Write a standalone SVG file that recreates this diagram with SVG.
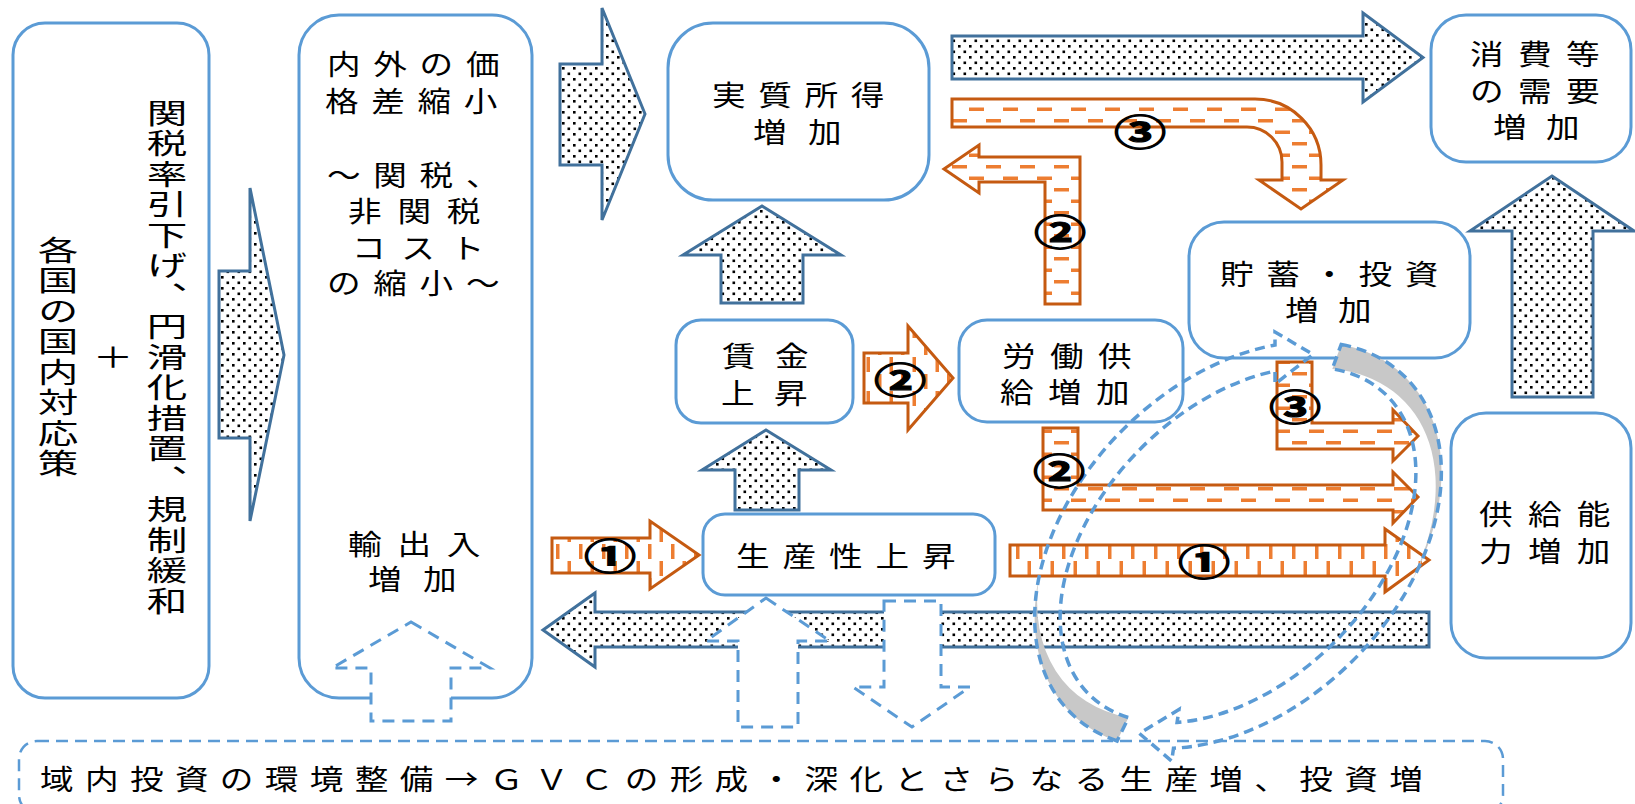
<svg xmlns="http://www.w3.org/2000/svg" width="1635" height="804" viewBox="0 0 1635 804">
<defs>
<pattern id="dots" width="11" height="11" patternUnits="userSpaceOnUse"><rect width="11" height="11" fill="#fff"/><rect x="1" y="1" width="2.6" height="2.6" fill="#000"/><rect x="6.5" y="6.5" width="2.6" height="2.6" fill="#000"/></pattern>
<pattern id="hdash" width="34" height="23" patternUnits="userSpaceOnUse"><rect width="34" height="23" fill="#fff"/><rect x="0" y="4" width="15" height="3.5" fill="#ed7d31"/><rect x="17" y="15.5" width="15" height="3.5" fill="#ed7d31"/></pattern>
<pattern id="vdash" width="23" height="34" patternUnits="userSpaceOnUse"><rect width="23" height="34" fill="#fff"/><rect x="4" y="0" width="3.5" height="15" fill="#ed7d31"/><rect x="15.5" y="17" width="3.5" height="15" fill="#ed7d31"/></pattern>
<style>
.box{fill:#fff;stroke:#5b9bd5;stroke-width:3}
.tbox{fill:#fff;stroke:#5b9bd5;stroke-width:2.5;stroke-dasharray:12 7}
.dot{fill:url(#dots);stroke:#41719c;stroke-width:3}
.oh{fill:url(#hdash);stroke:#c55a11;stroke-width:3}
.ov{fill:url(#vdash);stroke:#c55a11;stroke-width:3}
.dsh{fill:#fff;stroke:#5b9bd5;stroke-width:3;stroke-dasharray:12 8}
.loop{fill:none;stroke:#5b9bd5;stroke-width:3.5;stroke-dasharray:10 6}
.gray{fill:#c8c8c8;stroke:none}
.t{font-family:"Liberation Sans","Noto Sans CJK JP","Noto Sans CJK SC",sans-serif;font-size:28px;fill:#000}
.cjk{font-family:"Noto Sans CJK JP","Noto Sans CJK SC",sans-serif}
.tv{font-family:"Noto Sans CJK JP","Noto Sans CJK SC",sans-serif;font-size:28px;fill:#000;writing-mode:vertical-rl;letter-spacing:2.5px}
.num{font-family:"Noto Sans CJK JP","Noto Sans CJK SC",sans-serif;font-size:36px;font-weight:700;fill:#000;stroke:#000;stroke-width:1.1;text-anchor:middle;dominant-baseline:central}
</style>
</defs>
<rect width="1635" height="804" fill="#fff"/>

<g id="node-policy">
<rect class="box" x="13" y="23" width="196" height="675" rx="32"/>
<g transform="translate(167,99) scale(1.45 1)"><text class="tv">関税率引下げ、円滑化措置、規制緩和</text></g>
<g transform="translate(113,357) scale(1.45 1)"><text class="t cjk" text-anchor="middle" y="10.5">＋</text></g>
<g transform="translate(58,236) scale(1.45 1)"><text class="tv">各国の国内対応策</text></g>
</g>

<g id="node-price">
<rect class="box" x="299" y="15" width="233" height="683" rx="40"/>
<g transform="scale(1.2 1)"><text class="t">
<tspan x="272.5" y="75.5" letter-spacing="10.6">内外の価</tspan>
<tspan x="270.8" y="112.5" letter-spacing="10.6">格差縮小</tspan>
<tspan x="272.5" y="186.5" letter-spacing="10.6">～関税、</tspan>
<tspan x="290" y="222.5" letter-spacing="13.2">非関税</tspan>
<tspan x="293.3" y="259.5" letter-spacing="13.2">コスト</tspan>
<tspan x="272.5" y="294.5" letter-spacing="10.6">の縮小～</tspan>
<tspan x="290" y="555.5" letter-spacing="13.2">輸出入</tspan>
<tspan x="306.7" y="590.5" letter-spacing="17.8">増加</tspan>
</text></g>
</g>

<g id="node-income">
<rect class="box" x="668" y="23" width="261" height="177" rx="45"/>
<g transform="scale(1.2 1)"><text class="t">
<tspan x="593.3" y="106.5" letter-spacing="10.6">実質所得</tspan>
<tspan x="627.5" y="143.5" letter-spacing="17.8">増加</tspan>
</text></g>
</g>

<g id="node-wage">
<rect class="box" x="676" y="320" width="177" height="103" rx="25"/>
<g transform="scale(1.2 1)"><text class="t" letter-spacing="16.2">
<tspan x="601.7" y="367.5">賃金</tspan>
<tspan x="600.8" y="404.5">上昇</tspan>
</text></g>
</g>

<g id="node-productivity">
<rect class="box" x="703" y="514" width="292" height="81" rx="22"/>
<g transform="scale(1.2 1)"><text class="t" x="613.3" y="567.5" letter-spacing="10.8">生産性上昇</text></g>
</g>

<g id="node-labor">
<rect class="box" x="959" y="320" width="224" height="102" rx="28"/>
<g transform="scale(1.2 1)"><text class="t" letter-spacing="12">
<tspan x="835" y="367.5">労働供</tspan>
<tspan x="833.3" y="403.5">給増加</tspan>
</text></g>
</g>

<g id="node-saving">
<rect class="box" x="1189" y="222" width="281" height="136" rx="35"/>
<g transform="scale(1.2 1)"><text class="t">
<tspan x="1016.7" y="285.5" letter-spacing="10.5">貯蓄・投資</tspan>
<tspan x="1070.8" y="321.5" letter-spacing="16.2">増加</tspan>
</text></g>
</g>

<g id="node-demand">
<rect class="box" x="1431" y="15" width="200" height="147" rx="35"/>
<g transform="scale(1.2 1)"><text class="t">
<tspan x="1225" y="65.5" letter-spacing="12">消費等</tspan>
<tspan x="1225" y="102.5" letter-spacing="12">の需要</tspan>
<tspan x="1244.2" y="138.5" letter-spacing="16.2">増加</tspan>
</text></g>
</g>

<g id="node-supply">
<rect class="box" x="1451" y="413" width="180" height="245" rx="35"/>
<g transform="scale(1.2 1)"><text class="t" letter-spacing="12.8">
<tspan x="1232.5" y="525.5">供給能</tspan>
<tspan x="1232.5" y="562.5">力増加</tspan>
</text></g>
</g>

<g id="node-gvc">
<rect class="tbox" x="19" y="741" width="1484" height="72" rx="18"/>
<g transform="scale(1.2 1)"><text class="t" x="33.3" y="790.5" letter-spacing="9.5">域内投資の環境整備<tspan class="cjk">→</tspan>ＧＶＣの形成・深化とさらなる生産増、投資増</text></g>
</g>

<g id="connectors">
<polygon class="dot" points="219,271 250,271 250,188 284,355 250,521 250,438 219,438"/>
<polygon class="dot" points="560,64 602,64 602,8 645,114 602,220 602,165 560,165"/>
<polygon class="dot" points="762,206 841,255 803,255 803,303 721,303 721,255 683,255"/>
<polygon class="dot" points="766,430 831,470 799,470 799,510 735,510 735,470 702,470"/>
<polygon class="dot" points="543,630 595,593 595,612 1429,612 1429,647 595,647 595,667"/>
<polygon class="dot" points="952,36 1363,36 1363,13 1423,57.5 1363,102 1363,79 952,79"/>
<polygon class="dot" points="1552,176 1634,231 1593,231 1593,397 1512,397 1512,231 1470,231"/>

<polygon class="ov" points="552,538 650,538 650,521 699,555 650,589 650,573 552,573"/>
<polygon class="ov" points="1010,545 1385,545 1385,529 1429,560 1385,592 1385,576 1010,576"/>
<polygon class="ov" points="864,353 908,353 908,326 953,378 908,430 908,403 864,403"/>
<polygon class="oh" points="1080,157 1080,304 1045,304 1045,182 979,182 979,193 944,169 979,145 979,157"/>
<path class="oh" d="M952,99 L1255,99 A66 66 0 0 1 1321,165 L1321,180 L1343,180 L1301,209 L1259,180 L1282,180 L1282,162 A35 35 0 0 0 1247,127 L952,127 Z"/>
<polygon class="oh" points="1043,428 1078,428 1078,485 1393,485 1393,472 1418,497 1393,523 1393,510 1043,510"/>
<polygon class="oh" points="1277,362 1312,362 1312,423 1393,423 1393,410 1418,436 1393,461 1393,449 1277,449"/>

<polygon class="dsh" points="411,622 490,668 451,668 451,721 371,721 371,668 332,668"/>
<polygon class="dsh" points="766,598 830,641 798,641 798,727 738,727 738,641 706,641"/>
<polygon class="dsh" points="884,601 941,601 941,687 970,687 912,727 853,687 884,687"/>

<path class="gray" d="M1341.2,344.4 A237 163 -45 0 1 1405.7,592.6 A224 150 -45 0 0 1332.3,368.9 Z"/>
<path class="gray" d="M1117.1,741 A237 163 -45 0 1 1038.7,578.5 A224 150 -45 0 0 1128.5,717.6 Z"/>
<path class="loop" d="M1341.2,344.4 A237 163 -45 0 1 1423.1,557.4 A237 163 -45 0 1 1173.5,748.2 L1171.7,761.1 L1139.3,733.4 L1179,709.5 L1177.1,722.4 A211 137 -45 0 0 1397.9,551.2 A211 137 -45 0 0 1332.3,368.9 Z"/>
<path class="loop" d="M1117.1,741 A237 163 -45 0 1 1051.5,536.1 A237 163 -45 0 1 1275,345 L1275,332 L1313.1,354.4 L1275,384 L1275,371 A211 137 -45 0 0 1076.8,541.9 A211 137 -45 0 0 1128.5,717.6 Z"/>

<g transform="translate(1140,130) scale(1.45 1)"><text class="num">③</text></g>
<g transform="translate(1060,230) scale(1.45 1)"><text class="num">②</text></g>
<g transform="translate(900,378) scale(1.45 1)"><text class="num">②</text></g>
<g transform="translate(610,554) scale(1.45 1)"><text class="num">①</text></g>
<g transform="translate(1059,469) scale(1.45 1)"><text class="num">②</text></g>
<g transform="translate(1295,405) scale(1.45 1)"><text class="num">③</text></g>
<g transform="translate(1204,560) scale(1.45 1)"><text class="num">①</text></g>
</g>
</svg>
